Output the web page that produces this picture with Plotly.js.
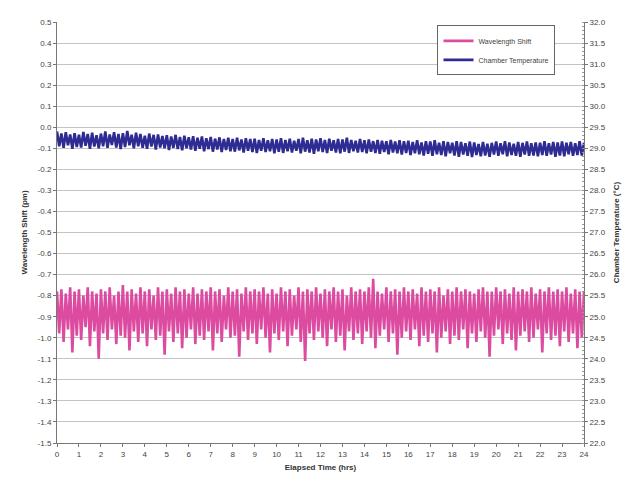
<!DOCTYPE html>
<html>
<head>
<meta charset="utf-8">
<script src="https://cdn.plot.ly/plotly-3.0.1.min.js"></script>
<style>html,body{margin:0;padding:0;background:#fff;}#chart{width:632px;height:487px;}</style>
</head>
<body>
<div id="chart"></div>
<script>
// Sampling step of the logged series (hours) and number of samples
const timeStepHrs = 0.1;
const sampleCount = 241;

// Wavelength shift (pm)
const wavelengthShift = [
-0.78,-0.98,-0.77,-1.02,-0.79,-0.96,-0.76,-1.07,-0.78,-0.99,
-0.77,-1.01,-0.80,-0.95,-0.76,-1.04,-0.78,-0.97,-0.79,-1.10,
-0.77,-0.98,-0.78,-1.01,-0.76,-0.96,-0.80,-1.03,-0.78,-0.99,
-0.75,-1.00,-0.78,-1.06,-0.77,-0.97,-0.79,-1.02,-0.76,-0.98,
-0.78,-1.04,-0.77,-0.96,-0.80,-1.01,-0.76,-0.99,-0.78,-1.08,
-0.77,-0.97,-0.79,-1.02,-0.76,-0.98,-0.78,-1.05,-0.77,-1.00,
-0.79,-0.96,-0.76,-1.03,-0.79,-0.99,-0.77,-1.01,-0.78,-0.97,
-0.76,-1.06,-0.78,-0.98,-0.77,-1.02,-0.80,-0.96,-0.76,-1.00,
-0.78,-0.99,-0.77,-1.09,-0.79,-0.97,-0.76,-1.01,-0.78,-0.98,
-0.77,-1.03,-0.78,-0.96,-0.76,-1.00,-0.79,-1.07,-0.77,-0.98,
-0.79,-1.01,-0.76,-0.97,-0.78,-1.04,-0.77,-0.99,-0.80,-0.96,
-0.76,-1.02,-0.78,-1.11,-0.77,-0.98,-0.78,-1.01,-0.76,-0.97,
-0.79,-1.00,-0.77,-1.04,-0.78,-0.96,-0.76,-1.02,-0.78,-0.99,
-0.77,-1.06,-0.80,-0.97,-0.76,-1.01,-0.78,-0.98,-0.77,-1.03,
-0.78,-0.97,-0.76,-1.00,-0.72,-1.05,-0.78,-0.99,-0.79,-0.96,
-0.76,-1.02,-0.78,-0.98,-0.77,-1.08,-0.78,-1.00,-0.76,-0.97,
-0.78,-1.01,-0.77,-0.96,-0.79,-1.04,-0.76,-0.99,-0.78,-1.02,
-0.77,-0.98,-0.78,-1.07,-0.76,-1.00,-0.80,-0.97,-0.77,-1.03,
-0.78,-0.99,-0.76,-1.01,-0.78,-0.96,-0.77,-1.05,-0.78,-0.98,
-0.79,-1.02,-0.77,-0.97,-0.76,-1.00,-0.78,-1.09,-0.78,-0.99,
-0.76,-0.96,-0.78,-1.03,-0.77,-0.98,-0.79,-1.01,-0.76,-1.06,
-0.78,-0.99,-0.77,-0.97,-0.78,-1.02,-0.76,-1.00,-0.79,-0.96,
-0.77,-1.07,-0.78,-0.98,-0.76,-1.01,-0.78,-0.99,-0.77,-1.04,
-0.78,-0.97,-0.76,-1.02,-0.79,-0.98,-0.77,-1.05,-0.78,-1.00,
-0.78
];

// Chamber temperature (°C)
const chamberTemperature = [
29.40,29.05,29.35,29.01,29.38,29.07,29.33,28.99,29.36,29.03,
29.32,29.02,29.39,29.06,29.34,28.99,29.37,29.04,29.31,29.00,
29.35,29.05,29.40,29.01,29.33,29.08,29.38,29.02,29.34,28.98,
29.36,29.03,29.41,29.07,29.32,29.00,29.37,29.05,29.34,29.01,
29.30,28.99,29.35,29.04,29.32,28.97,29.33,29.02,29.29,29.00,
29.31,28.96,29.28,29.01,29.32,28.98,29.27,28.95,29.30,29.00,
29.26,28.97,29.29,28.94,29.25,28.99,29.28,28.93,29.24,28.98,
29.27,28.92,29.23,28.97,29.26,28.91,29.22,28.96,29.25,28.93,
29.22,28.92,29.25,28.95,29.21,28.90,29.24,28.94,29.22,28.91,
29.23,28.89,29.20,28.94,29.24,28.91,29.19,28.93,29.22,28.88,
29.21,28.92,29.24,28.89,29.20,28.93,29.23,28.90,29.18,28.94,
29.22,28.88,29.25,28.92,29.19,28.90,29.23,28.87,29.21,28.93,
29.24,28.91,29.20,28.89,29.23,28.94,29.19,28.90,29.22,28.88,
29.21,28.92,29.25,28.89,29.20,28.93,29.18,28.90,29.22,28.91,
29.19,28.88,29.21,28.92,29.17,28.89,29.20,28.87,29.18,28.91,
29.17,28.86,29.20,28.90,29.16,28.88,29.19,28.85,29.17,28.89,
29.18,28.84,29.15,28.88,29.19,28.86,29.14,28.83,29.17,28.87,
29.16,28.82,29.19,28.86,29.13,28.84,29.17,28.81,29.15,28.88,
29.13,28.83,29.17,28.80,29.15,28.85,29.12,28.82,29.16,28.79,
29.14,28.84,29.10,28.81,29.15,28.83,29.11,28.80,29.13,28.85,
29.16,28.82,29.12,28.86,29.17,28.81,29.14,28.84,29.11,28.82,
29.15,28.80,29.13,28.85,29.16,28.82,29.12,28.83,29.14,28.81,
29.13,28.84,29.17,28.82,29.12,28.85,29.15,28.80,29.14,28.83,
29.16,28.81,29.13,28.86,29.15,28.82,29.12,28.84,29.17,28.83,
29.13
];

// Tick values / labels
const xTicks = [0,1,2,3,4,5,6,7,8,9,10,11,12,13,14,15,16,17,18,19,20,21,22,23,24];
const leftTicks = [0.5,0.4,0.3,0.2,0.1,0.0,-0.1,-0.2,-0.3,-0.4,-0.5,-0.6,-0.7,-0.8,-0.9,-1.0,-1.1,-1.2,-1.3,-1.4,-1.5];
const leftLabels = ["0.5","0.4","0.3","0.2","0.1","0.0","-0.1","-0.2","-0.3","-0.4","-0.5","-0.6","-0.7","-0.8","-0.9","-1.0","-1.1","-1.2","-1.3","-1.4","-1.5"];
const rightTicks = [32.0,31.5,31.0,30.5,30.0,29.5,29.0,28.5,28.0,27.5,27.0,26.5,26.0,25.5,25.0,24.5,24.0,23.5,23.0,22.5,22.0];
const rightLabels = ["32.0","31.5","31.0","30.5","30.0","29.5","29.0","28.5","28.0","27.5","27.0","26.5","26.0","25.5","25.0","24.5","24.0","23.5","23.0","22.5","22.0"];

const elapsedTime = [];
for (let i = 0; i < sampleCount; i++) elapsedTime.push(+(i * timeStepHrs).toFixed(2));

const tickFont = {family: 'Arial, "Liberation Sans", sans-serif', size: 8, color: '#444'};
const titleFont = {family: 'Arial, "Liberation Sans", sans-serif', size: 8, color: '#333', weight: 'bold'};

const traces = [
  {x: elapsedTime, y: wavelengthShift, type: 'scatter', mode: 'lines', name: 'Wavelength Shift',
   line: {color: '#dc4ba0', width: 2.6, simplify: false}, yaxis: 'y'},
  {x: elapsedTime, y: chamberTemperature, type: 'scatter', mode: 'lines', name: 'Chamber Temperature',
   line: {color: '#2e2c92', width: 2.6, simplify: false}, yaxis: 'y2'}
];

const layout = {
  width: 632, height: 487,
  margin: {l: 57, r: 48, t: 22, b: 44},
  paper_bgcolor: '#ffffff', plot_bgcolor: '#ffffff',
  showlegend: true,
  legend: {x: 0.722, y: 0.992, xanchor: 'left', yanchor: 'top', bgcolor: '#ffffff',
           bordercolor: '#666', borderwidth: 1, font: {family: 'Arial, "Liberation Sans", sans-serif', size: 7, color: '#444'},
           tracegroupgap: 0, itemwidth: 30},
  xaxis: {range: [0, 24], tickvals: xTicks, ticktext: xTicks.map(String), tickfont: tickFont,
          showgrid: false, zeroline: false, showline: true, linecolor: '#777', linewidth: 1,
          ticks: 'outside', ticklen: 3, tickcolor: '#777',
          title: {text: 'Elapsed Time (hrs)', font: titleFont, standoff: 6}},
  yaxis: {range: [-1.5, 0.5], tickvals: leftTicks, ticktext: leftLabels, tickfont: tickFont,
          showgrid: true, gridcolor: '#c4c4c4', gridwidth: 1, zeroline: false,
          showline: true, linecolor: '#777', linewidth: 1, ticks: 'outside', ticklen: 3, tickcolor: '#777',
          title: {text: 'Wavelength Shift (pm)', font: titleFont, standoff: 8}},
  yaxis2: {range: [22, 32], overlaying: 'y', side: 'right', tickvals: rightTicks, ticktext: rightLabels,
           tickfont: tickFont, showgrid: false, zeroline: false, showline: true, linecolor: '#777', linewidth: 1,
           ticks: 'outside', ticklen: 3, tickcolor: '#777',
           minor: {dtick: 0.1, ticks: 'inside', ticklen: 2, tickcolor: '#999'},
           title: {text: 'Chamber Temperature (°C)', font: titleFont, standoff: 8}}
};

Plotly.newPlot('chart', traces, layout, {displayModeBar: false, staticPlot: true});
</script>
</body>
</html>
